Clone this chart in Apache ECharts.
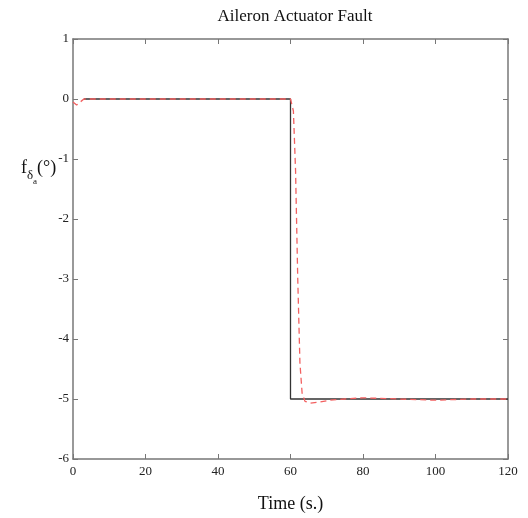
<!DOCTYPE html>
<html>
<head>
<meta charset="utf-8">
<script src="https://cdn.jsdelivr.net/npm/echarts@6/dist/echarts.min.js"></script>
<style>
  html, body { margin: 0; padding: 0; background: #fff; }
  #chart { width: 528px; height: 518px; }
</style>
</head>
<body>
<div id="chart"></div>
<script>
// fault (black, solid)
const faultTime = [3, 60, 60, 120];
const faultValue = [0, 0, -5, -5];

// estimate (red, dashed)
const estTime = [0, 1, 2, 3, 60, 60.8, 61.4, 62, 62.6, 63.2, 64, 65.5, 68, 71, 75, 80, 90, 100, 110, 120];
const estValue = [-0.05, -0.1, -0.05, 0, 0, -0.2, -1.2, -3.0, -4.4, -4.9, -5.04, -5.07, -5.05, -5.02, -5.0, -4.98, -5.0, -5.02, -5.0, -5.0];

const xTicks = [0, 20, 40, 60, 80, 100, 120];
const yTicks = [1, 0, -1, -2, -3, -4, -5, -6];

const font = "Liberation Serif";
const myChart = echarts.init(document.getElementById("chart"));

const pair = (xs, ys) => xs.map((x, i) => [x, ys[i]]);

const frameLine = { show: true, onZero: false, lineStyle: { color: "#777", width: 1.5 } };
const frameTick = { show: true, inside: true, length: 5, lineStyle: { color: "#777" } };

myChart.setOption({
  animation: false,
  title: [
    {
      text: "Aileron Actuator Fault",
      left: 290,
      top: 3,
      textAlign: "center",
      textStyle: { fontFamily: font, fontSize: 17, fontWeight: "normal", color: "#111" },
    },
    {
      // y axis name f_{δ_a} (°)
      text: "{f|f}{s|δ}{ss|a}{f|(°)}",
      left: 16,
      top: 146,
      textStyle: {
        rich: {
          f: { fontFamily: font, fontSize: 18, fontWeight: "normal", color: "#111" },
          s: { fontFamily: font, fontSize: 13, fontWeight: "normal", color: "#111", padding: [14, 0, 0, 0] },
          ss: { fontFamily: font, fontSize: 9, fontWeight: "normal", color: "#111", padding: [26, 0, 0, 0] },
        },
      },
    },
  ],
  grid: { left: 73, right: 20, top: 39, bottom: 57 },
  xAxis: [
    {
      type: "value",
      min: xTicks[0],
      max: xTicks[xTicks.length - 1],
      interval: 20,
      name: "Time (s.)",
      nameLocation: "middle",
      nameGap: 36,
      nameTextStyle: { fontFamily: font, fontSize: 18, color: "#111" },
      axisLine: frameLine,
      axisTick: frameTick,
      axisLabel: { fontFamily: font, fontSize: 13, color: "#222", margin: 6 },
      splitLine: { show: false },
    },
    {
      type: "value",
      position: "top",
      min: 0,
      max: 120,
      interval: 20,
      axisLine: frameLine,
      axisTick: frameTick,
      axisLabel: { show: false },
      splitLine: { show: false },
    },
  ],
  yAxis: [
    {
      type: "value",
      min: yTicks[yTicks.length - 1],
      max: yTicks[0],
      interval: 1,
      axisLine: frameLine,
      axisTick: frameTick,
      axisLabel: { fontFamily: font, fontSize: 13, color: "#222", margin: 4 },
      splitLine: { show: false },
    },
    {
      type: "value",
      position: "right",
      min: -6,
      max: 1,
      interval: 1,
      axisLine: frameLine,
      axisTick: frameTick,
      axisLabel: { show: false },
      splitLine: { show: false },
    },
  ],
  series: [
    {
      name: "fault",
      type: "line",
      data: pair(faultTime, faultValue),
      showSymbol: false,
      lineStyle: { color: "#333", width: 1.3 },
      z: 2,
    },
    {
      name: "estimate",
      type: "line",
      data: pair(estTime, estValue),
      showSymbol: false,
      lineStyle: { color: "#f26060", width: 1.3, type: [6, 4] },
      z: 3,
    },
  ],
});
</script>
</body>
</html>
